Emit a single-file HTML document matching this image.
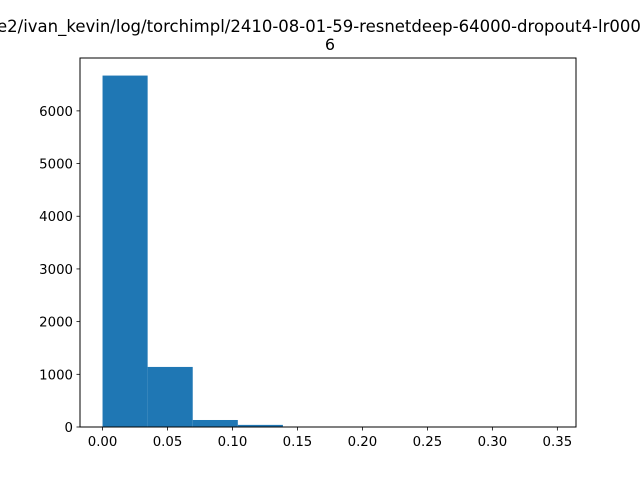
<!DOCTYPE html>
<html><head><meta charset="utf-8"><style>
body{margin:0;background:#fff}
svg{display:block;font-family:"DejaVu Sans","Liberation Sans",sans-serif}
</style></head><body>
<svg id="chart" width="640" height="480" viewBox="0 0 640 480">
<rect width="640" height="480" fill="#fff"/>
<text x="-3" y="32" font-size="16.5">e2/ivan_kevin/log/torchimpl/2410-08-01-59-resnetdeep-64000-dropout4-lr0006</text>
<text x="330" y="50" font-size="16" text-anchor="middle">6</text>
<g id="bars"></g>
<g id="xaxis"></g>
<g id="yaxis"></g>
<rect x="80" y="58" width="496" height="369" fill="none" stroke="#000" stroke-width="1"/>
</svg>
<script>
const binStart = 0;
const binWidth = 0.0347;
const counts = [6670, 1140, 133, 40, 5, 2, 1, 1, 1, 1];
const xTicks = [0, 0.05, 0.10, 0.15, 0.20, 0.25, 0.30, 0.35];
const xTickLabels = ["0.00","0.05","0.10","0.15","0.20","0.25","0.30","0.35"];
const yTicks = [0, 1000, 2000, 3000, 4000, 5000, 6000];
const yTickLabels = ["0","1000","2000","3000","4000","5000","6000"];

const L=80,R=576,T=58,B=427;
const xMin=-0.01735, xMax=0.36435;
const yMax=7003.5;
const sx=v=>L+(v-xMin)/(xMax-xMin)*(R-L);
const sy=v=>B-v/yMax*(B-T);
const NS="http://www.w3.org/2000/svg";
function mk(tag,attrs,parent){const e=document.createElementNS(NS,tag);for(const k in attrs)e.setAttribute(k,attrs[k]);parent.appendChild(e);return e;}
const bars=document.getElementById('bars');
counts.forEach((c,i)=>{
  const x0=sx(binStart+i*binWidth), x1=sx(binStart+(i+1)*binWidth);
  const r=mk('rect',{x:x0,y:sy(c),width:x1-x0,height:B-sy(c),fill:'#1f77b4'},bars);
  
  
});
const xa=document.getElementById('xaxis');
xTicks.forEach((t,i)=>{
  const x=sx(t);
  const l=mk('line',{x1:x,x2:x,y1:B,y2:B+3.5,stroke:'#000','stroke-width':0.8},xa);
  
  
  const tx=mk('text',{x:x,y:B+19,'font-size':13.3,'text-anchor':'middle'},xa);
  tx.textContent=xTickLabels[i];
  
  
});
const ya=document.getElementById('yaxis');
yTicks.forEach((t,i)=>{
  const y=sy(t);
  const l=mk('line',{x1:L-3.5,x2:L,y1:y,y2:y,stroke:'#000','stroke-width':0.8},ya);
  
  
  const tx=mk('text',{x:L-7,y:y+5,'font-size':13.3,'text-anchor':'end'},ya);
  tx.textContent=yTickLabels[i];
  
  
});
</script>
</body></html>
